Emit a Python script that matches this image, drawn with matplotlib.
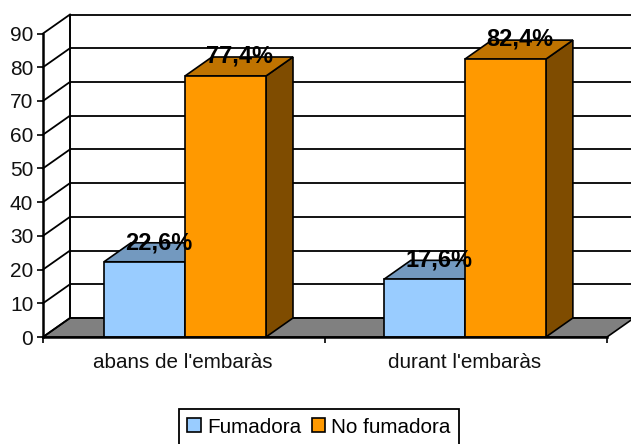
import matplotlib
matplotlib.use('Agg')
from matplotlib import pyplot as plt
from matplotlib.patches import Patch, Polygon

categories = ["abans de l'embaràs", "durant l'embaràs"]
series_names = ['Fumadora', 'No fumadora']
fumadora = [22.3, 17.1]
no_fumadora = [77.4, 82.4]
fumadora_labels = ['22,6%', '17,6%']
no_fumadora_labels = ['77,4%', '82,4%']
y_ticks = [0, 10, 20, 30, 40, 50, 60, 70, 80, 90]

WIDTH, HEIGHT = 631, 444
LEFT, RIGHT, BOTTOM, TOP = 43, 607, 337, 33.5
FONT = 'Liberation Sans'

# depth of the fake 3d box, in data units
DEPTH_X = 27 / 282
DEPTH_Y = 19 / ((BOTTOM - TOP) / 90)
BAR_WIDTH = 81 / 282
CENTERS = [0.5035, 1.496]


def poly(axes, points, color, z):
    axes.add_patch(Polygon(points, closed=True, facecolor=color, edgecolor='black',
                           linewidth=1.2, joinstyle='miter', zorder=z, clip_on=False))


def bar_3d(axes, x0, x1, value, front, top, side, z):
    poly(axes, [(x1, 0), (x1 + DEPTH_X, DEPTH_Y), (x1 + DEPTH_X, value + DEPTH_Y), (x1, value)], side, z)
    poly(axes, [(x0, value), (x0 + DEPTH_X, value + DEPTH_Y), (x1 + DEPTH_X, value + DEPTH_Y), (x1, value)], top, z)
    poly(axes, [(x0, 0), (x1, 0), (x1, value), (x0, value)], front, z)


fig = plt.figure(figsize=(WIDTH / 100, HEIGHT / 100), dpi=100)
ax = fig.add_axes([LEFT / WIDTH, 1 - BOTTOM / HEIGHT, (RIGHT - LEFT) / WIDTH, (BOTTOM - TOP) / HEIGHT])
ax.set_xlim(0, 2)
ax.set_ylim(0, 90)
ax.patch.set_visible(False)

# floor
poly(ax, [(0, 0), (DEPTH_X, DEPTH_Y), (2 + DEPTH_X, DEPTH_Y), (2, 0)], '#808080', 1)

# walls and grid
ax.plot([DEPTH_X, DEPTH_X], [DEPTH_Y, 90 + DEPTH_Y], color='black', lw=1.4, clip_on=False, zorder=2)
for tick in y_ticks:
    ax.plot([0, DEPTH_X], [tick, tick + DEPTH_Y], color='black', lw=1.3, clip_on=False, zorder=2)
    ax.plot([DEPTH_X, 2 + DEPTH_X], [tick + DEPTH_Y, tick + DEPTH_Y], color='black', lw=1.3,
            clip_on=False, zorder=2)

for i, center in enumerate(CENTERS):
    bar_3d(ax, center - BAR_WIDTH, center, fumadora[i], '#99CCFF', '#7399BF', '#4C6680', 3 + i)
    bar_3d(ax, center, center + BAR_WIDTH, no_fumadora[i], '#FF9900', '#BF7300', '#7F4C00', 3 + i)
    ax.text(center - BAR_WIDTH / 2 + DEPTH_X / 2 + 0.003, fumadora[i] + DEPTH_Y, fumadora_labels[i], ha='center',
            va='center', family=FONT, fontsize=17, fontweight='bold', color='black', zorder=10)
    ax.text(center + BAR_WIDTH / 2 + DEPTH_X / 2 + 0.003, no_fumadora[i] + DEPTH_Y + 0.2, no_fumadora_labels[i],
            ha='center', va='center', family=FONT, fontsize=17, fontweight='bold', color='black', zorder=10)

for name in ['top', 'right']:
    ax.spines[name].set_visible(False)
for name in ['left', 'bottom']:
    ax.spines[name].set_linewidth(1.8)
    ax.spines[name].set_zorder(8)

ax.set_yticks(y_ticks)
ax.set_xticks([0, 1, 2])
ax.set_xticklabels([])
ax.tick_params(axis='both', length=4.5, width=1.2, color='black')
ax.tick_params(axis='y', pad=2.5, labelsize=15, labelcolor='#111111')
for label in ax.get_yticklabels():
    label.set_family(FONT)

# category labels sit between the ticks
for position, category in zip([0.5, 1.5], categories):
    ax.annotate(category, (position - 0.005, 0), xytext=(0, -18.5), xycoords='data', textcoords='offset points',
                ha='center', va='center', family=FONT, fontsize=14.9, color='#111111')

handles = [Patch(facecolor='#99CCFF', edgecolor='black', linewidth=1.2),
           Patch(facecolor='#FF9900', edgecolor='black', linewidth=1.2)]
legend = fig.legend(handles, series_names, loc='center', bbox_to_anchor=(319 / WIDTH, 1 - 427 / HEIGHT), ncol=2,
                    fancybox=False, framealpha=1, edgecolor='black', handlelength=0.65, handleheight=0.65,
                    handletextpad=0.3, columnspacing=0.5, borderpad=0.4, borderaxespad=0,
                    prop={'family': FONT, 'size': 14.9})
legend.get_frame().set_linewidth(1.3)

fig.savefig('out.png', dpi=100)
